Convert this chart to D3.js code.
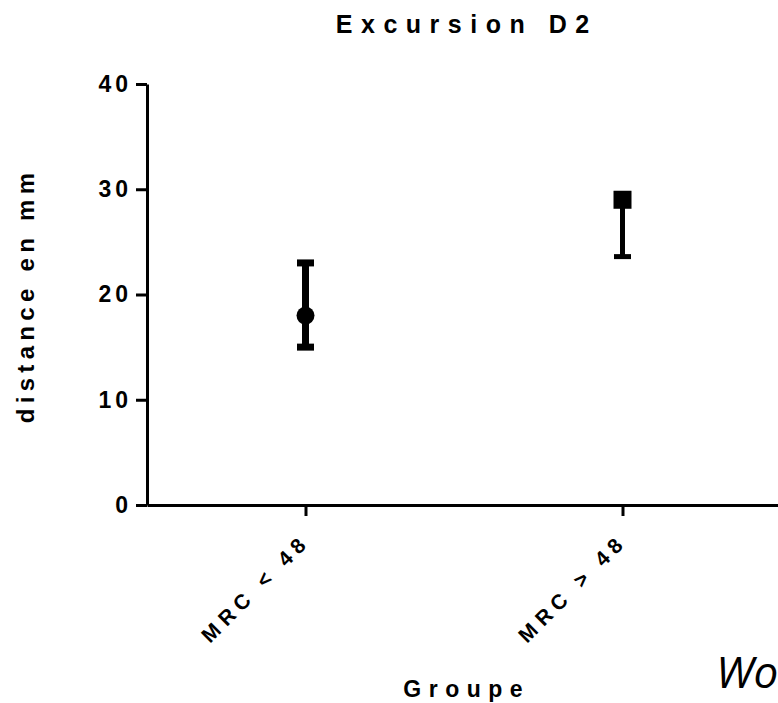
<!DOCTYPE html>
<html>
<head>
<meta charset="utf-8">
<script src="https://cdn.jsdelivr.net/npm/d3@7"></script>
<style>
  body { margin: 0; background: #fff; }
  svg { font-family: "Liberation Sans", Arial, sans-serif; }
  .axis path, .axis line { stroke: #000; stroke-width: 3; }
  .axis text { fill: #000; font-weight: bold; }
</style>
</head>
<body>
<div id="chart"></div>
<script>
// groups on the x axis
const groups = ["MRC < 48", "MRC > 48"];
// mean values
const means = [18, 29];
// error bar ends
const lowerErr = [15, 23.6];
const upperErr = [23, 29.6];
const symbols = ["circle", "square"];
const yTicks = [0, 10, 20, 30, 40];

const width = 778, height = 703;
const margin = {left: 147, top: 84, bottom: 198};

const svg = d3.select('#chart')
    .append('svg')
    .attr('width', width)
    .attr('height', height);

const scaleY = d3.scaleLinear()
    .domain([0, 40])
    .range([height - margin.bottom, margin.top]);

const scaleX = d3.scalePoint()
    .domain(groups)
    .range([margin.left, 781])
    .padding(0.5);

// y axis
const tickSpacing = 4;
const gy = svg.append('g')
    .attr('class', 'axis')
    .attr('transform', `translate(${margin.left},0)`)
    .call(d3.axisLeft(scaleY).tickValues(yTicks).tickSize(11).tickSizeOuter(0).tickPadding(8));
gy.selectAll('text')
    .style('font-size', '23px')
    .style('letter-spacing', tickSpacing + 'px')
    .attr('dx', tickSpacing);

// x axis
const xSpacing = 6;
const gx = svg.append('g')
    .attr('class', 'axis')
    .attr('transform', `translate(0,${scaleY(0)})`)
    .call(d3.axisBottom(scaleX).tickSize(11).tickSizeOuter(0));
gx.selectAll('text')
    .style('font-size', '21px')
    .style('letter-spacing', xSpacing + 'px')
    .attr('text-anchor', 'end')
    .attr('dy', null)
    .attr('y', 0)
    .attr('dx', xSpacing)
    .attr('transform', 'translate(1,42) rotate(-45)');

// error bars
const bars = svg.append('g')
    .selectAll('g')
    .data(groups)
    .join('g');

bars.append('line')
    .attr('x1', d => scaleX(d))
    .attr('x2', d => scaleX(d))
    .attr('y1', (d, i) => scaleY(lowerErr[i]))
    .attr('y2', (d, i) => scaleY(upperErr[i]))
    .attr('stroke', '#000')
    .attr('stroke-width', (d, i) => i == 0 ? 7 : 5);

bars.each(function(d, i) {
    [lowerErr[i], upperErr[i]].forEach(v => {
        d3.select(this).append('line')
            .attr('x1', scaleX(d) - 8.5)
            .attr('x2', scaleX(d) + 8.5)
            .attr('y1', scaleY(v))
            .attr('y2', scaleY(v))
            .attr('stroke', '#000')
            .attr('stroke-width', i == 0 ? 7 : 5);
    });
});

// symbols
bars.append('path')
    .attr('transform', (d, i) => `translate(${scaleX(d)},${scaleY(means[i])})`)
    .attr('d', (d, i) => symbols[i] == 'circle'
        ? d3.symbol(d3.symbolCircle, Math.PI * 9 * 9)()
        : d3.symbol(d3.symbolSquare, 18 * 18)())
    .attr('fill', '#000');

// title
svg.append('text')
    .attr('x', 462.5)
    .attr('y', 33)
    .attr('dx', 4.25)
    .attr('text-anchor', 'middle')
    .style('font-size', '25px')
    .style('font-weight', 'bold')
    .style('letter-spacing', '8.5px')
    .text('Excursion D2');

// y label
svg.append('text')
    .attr('transform', `translate(34,298) rotate(-90)`)
    .attr('dx', 2.6)
    .attr('text-anchor', 'middle')
    .style('font-size', '24px')
    .style('font-weight', 'bold')
    .style('letter-spacing', '5.3px')
    .text('distance en mm');

// x label
svg.append('text')
    .attr('x', 463)
    .attr('y', 697)
    .attr('dx', 3.75)
    .attr('text-anchor', 'middle')
    .style('font-size', '23px')
    .style('font-weight', 'bold')
    .style('letter-spacing', '7.5px')
    .text('Groupe');

// stray text at the bottom right
svg.append('text')
    .attr('x', 716)
    .attr('y', 688)
    .style('font-family', '"Open Sans", sans-serif')
    .style('font-size', '44px')
    .style('font-style', 'italic')
    .text('Wo');
</script>
</body>
</html>
